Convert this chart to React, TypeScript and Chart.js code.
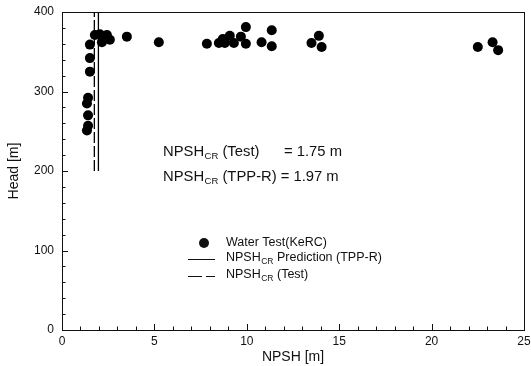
import React, { useEffect, useRef } from 'react';
import { Chart, registerables } from 'chart.js';

Chart.register(...registerables);

// Water test (KeRC) measurements: NPSH [m] and Head [m]
const testNpsh = [
  1.35, 1.41, 1.41, 1.35, 1.41, 1.51, 1.51, 1.51, 1.78, 2.05, 2.16, 2.43, 2.59, 3.51,
  5.24, 7.84, 8.49, 8.7, 8.81, 9.08, 9.3, 9.68, 9.95, 9.95, 10.8, 11.35, 11.35,
  13.5, 13.9, 14.05, 22.5, 23.3, 23.6,
];
const testHead = [
  251, 257, 270, 285, 292, 325, 342, 359, 371, 372, 362, 371, 365, 369,
  362, 360, 361, 366, 361, 370, 361, 369, 381, 360, 362, 377, 357,
  361, 370, 356, 356, 362, 352,
];

// Critical NPSH values (vertical lines)
const npshcrPrediction = 1.97;
const npshcrTest = 1.75;
const criticalLineHead = [200, 400];

// Axis ranges / tick steps
const xRange = [0, 25];
const yRange = [0, 400];
const xMajorStep = 5;
const xMinorStep = 1;
const yMajorStep = 100;
const yMinorStep = 20;

// Texts
const xTitle = 'NPSH [m]';
const yTitle = 'Head [m]';
const annotationLines = [
  { label: 'NPSH', sub: 'CR', rest: ' (Test)', value: '= 1.75 m' },
  { label: 'NPSH', sub: 'CR', rest: ' (TPP-R)', value: '= 1.97 m' },
];
const legendItems = [
  { kind: 'point', label: 'Water Test(KeRC)', sub: '', rest: '' },
  { kind: 'solid', label: 'NPSH', sub: 'CR', rest: ' Prediction (TPP-R)' },
  { kind: 'dashed', label: 'NPSH', sub: 'CR', rest: ' (Test)' },
];

const FONT = "'Liberation Sans', Arial, Helvetica, sans-serif";
const INK = '#111';

function drawSubText(ctx: CanvasRenderingContext2D, x: number, y: number, label: string, sub: string, rest: string, size: number, subSize: number) {
  ctx.font = `${size}px ${FONT}`;
  ctx.fillText(label, x, y);
  let cx = x + ctx.measureText(label).width;
  if (sub) {
    ctx.font = `${subSize}px ${FONT}`;
    ctx.fillText(sub, cx + 0.5, y + size * 0.3);
    cx += ctx.measureText(sub).width + 0.5;
  }
  ctx.font = `${size}px ${FONT}`;
  ctx.fillText(rest, cx, y);
  return cx + ctx.measureText(rest).width;
}

const framePlugin = {
  id: 'frameTicks',
  afterDatasetsDraw(chart: any) {
    const { ctx, chartArea: a, scales } = chart;
    const xs = scales.x;
    const ys = scales.y;
    ctx.save();
    ctx.strokeStyle = INK;
    ctx.lineWidth = 1;
    ctx.strokeRect(Math.round(a.left) + 0.5, Math.round(a.top) + 0.5, Math.round(a.right - a.left), Math.round(a.bottom - a.top));
    ctx.beginPath();
    for (let v = xRange[0]; v <= xRange[1]; v += xMinorStep) {
      const px = Math.round(xs.getPixelForValue(v)) + 0.5;
      const len = v % xMajorStep === 0 ? 6 : 3.5;
      ctx.moveTo(px, a.bottom);
      ctx.lineTo(px, a.bottom - len);
    }
    for (let v = yRange[0]; v <= yRange[1]; v += yMinorStep) {
      const py = Math.round(ys.getPixelForValue(v)) + 0.5;
      const len = v % yMajorStep === 0 ? 6 : 3.5;
      ctx.moveTo(a.left, py);
      ctx.lineTo(a.left + len, py);
    }
    ctx.stroke();

    // Annotation
    ctx.fillStyle = INK;
    ctx.textBaseline = 'middle';
    ctx.textAlign = 'left';
    const annY = [152, 177];
    annotationLines.forEach((l, i) => {
      const end = drawSubText(ctx, 163, annY[i], l.label, l.sub, l.rest, 14.8, 9.5);
      ctx.font = `14.8px ${FONT}`;
      const vx = i === 0 ? 284 : end + 4;
      ctx.fillText(l.value, vx, annY[i]);
    });

    // Legend
    const legY = [243, 258, 275];
    legendItems.forEach((it, i) => {
      const y = legY[i];
      ctx.strokeStyle = INK;
      ctx.lineWidth = 1;
      if (it.kind === 'point') {
        ctx.beginPath();
        ctx.arc(204, y, 5, 0, Math.PI * 2);
        ctx.fill();
      } else {
        ctx.beginPath();
        ctx.setLineDash(it.kind === 'dashed' ? [14, 4] : []);
        ctx.moveTo(188, Math.round(y + 1) + 0.5);
        ctx.lineTo(215, Math.round(y + 1) + 0.5);
        ctx.stroke();
        ctx.setLineDash([]);
      }
      drawSubText(ctx, 226, y, it.label, it.sub, it.rest, 12.5, 8.5);
    });
    ctx.restore();
  },
};

export default function App() {
  const ref = useRef<HTMLCanvasElement>(null);
  useEffect(() => {
    if (!ref.current) return;
    const points = testNpsh.map((x, i) => ({ x, y: testHead[i] }));
    const chart = new Chart(ref.current, {
      type: 'scatter',
      data: {
        datasets: [
          {
            label: 'Water Test(KeRC)',
            data: points,
            pointRadius: 5,
            pointBackgroundColor: '#000',
            pointBorderColor: '#000',
            pointBorderWidth: 0,
            showLine: false,
          },
          {
            label: 'NPSHCR Prediction (TPP-R)',
            data: criticalLineHead.map((y) => ({ x: npshcrPrediction, y })),
            showLine: true,
            borderColor: '#000',
            borderWidth: 1.3,
            pointRadius: 0,
          },
          {
            label: 'NPSHCR (Test)',
            data: criticalLineHead.map((y) => ({ x: npshcrTest, y })),
            showLine: true,
            borderColor: '#000',
            borderWidth: 1.3,
            borderDash: [11, 3],
            pointRadius: 0,
          },
        ],
      },
      plugins: [framePlugin],
      options: {
        animation: false,
        responsive: false,
        maintainAspectRatio: false,
        layout: { padding: { top: 12, right: 7, left: 0, bottom: 0 } },
        plugins: { legend: { display: false }, tooltip: { enabled: false } },
        scales: {
          x: {
            type: 'linear',
            min: xRange[0],
            max: xRange[1],
            afterFit: (s: any) => { s.height = 36; s.paddingRight = 0; s.paddingLeft = 0; },
            grid: { display: false, drawTicks: false },
            border: { display: false },
            ticks: { stepSize: xMajorStep, padding: 4, color: INK, font: { family: FONT, size: 12 } },
            title: { display: true, text: xTitle, color: INK, padding: { top: 0, bottom: 0 }, font: { family: FONT, size: 14 } },
          },
          y: {
            type: 'linear',
            min: yRange[0],
            max: yRange[1],
            afterFit: (s: any) => { s.width = 62; s.paddingTop = 0; s.paddingBottom = 0; },
            grid: { display: false, drawTicks: false },
            border: { display: false },
            ticks: { stepSize: yMajorStep, padding: 8, color: INK, font: { family: FONT, size: 12 } },
            title: { display: true, text: yTitle, color: INK, padding: { top: 6, bottom: 0 }, font: { family: FONT, size: 14 } },
          },
        },
      },
    });
    return () => chart.destroy();
  }, []);
  return (
    <div style={{ position: 'fixed', left: 0, top: 0, width: 531, height: 366, background: '#fff' }}>
      <canvas ref={ref} width={531} height={366} />
    </div>
  );
}
